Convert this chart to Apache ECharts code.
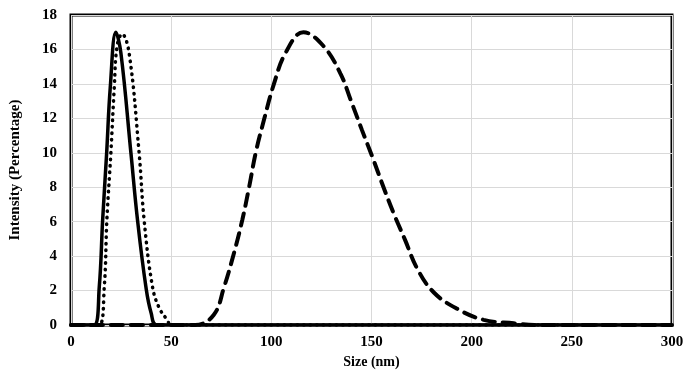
<!DOCTYPE html>
<html>
<head>
  <meta charset="utf-8">
  <style>
    html, body { margin: 0; padding: 0; width: 100%; height: 100%; overflow: hidden; background: #fff; }
  </style>
  <script src="https://cdn.jsdelivr.net/npm/echarts@6/dist/echarts.min.js"></script>
</head>
<body>
  <div id="container" style="width: 692px; height: 381px;"></div>
  <script>
    // solid curve
    var sizeSolid = [0, 11.5, 14.1, 15.8, 17.8, 19.6, 22.4, 24.9, 29.9, 33.2, 37.4, 40, 43, 300];
    var intSolid = [0, 0, 2.2, 6.1, 10, 13.8, 17, 15.8, 10, 6.1, 2.2, 0.7, 0, 0];
    // dotted curve
    var sizeDotted = [0, 14, 16.6, 17.9, 19.9, 21.6, 23, 25.5, 29, 34, 36.5, 40.7, 44, 48, 50, 300];
    var intDotted = [0, 0, 2.2, 6.1, 10, 13.8, 16.2, 16.9, 15.8, 10, 6.1, 2.2, 1.0, 0.3, 0, 0];
    // dashed curve
    var sizeDashed = [0, 62, 71.3, 76.4, 81.4, 85.5, 88.9, 92.2, 96.3, 101.3, 107.1, 116, 126, 134.5, 139.5, 145.3, 150.3, 156, 161, 166.9, 172.7, 181, 192.6, 206, 221, 232, 300];
    var intDashed = [0, 0, 0.6, 2.2, 4.2, 6.1, 8.0, 10, 11.9, 14, 15.8, 17, 16.2, 14.6, 13.1, 11.3, 9.8, 8, 6.5, 4.9, 3.3, 1.9, 0.95, 0.3, 0.1, 0, 0];

    var xTicks = [0, 50, 100, 150, 200, 250, 300];
    var yTicks = [0, 2, 4, 6, 8, 10, 12, 14, 16, 18];

    function pairs(xs, ys) {
      return xs.map(function (x, i) { return [x, ys[i]]; });
    }

    var font = 'Liberation Serif';
    var chart = echarts.init(document.getElementById('container'), null, { renderer: 'canvas' });

    var option = {
      backgroundColor: '#fff',
      animation: false,
      grid: {
        left: 70, right: 20, top: 15, bottom: 56,
        show: true, borderColor: '#000', borderWidth: 3
      },
      xAxis: {
        type: 'value',
        min: xTicks[0], max: xTicks[xTicks.length - 1], interval: 50,
        name: 'Size (nm)', nameLocation: 'middle', nameGap: 28,
        nameTextStyle: { fontFamily: font, fontWeight: 'bold', fontSize: 14, color: '#000' },
        axisLine: { show: false },
        axisTick: { show: false },
        axisLabel: { fontFamily: font, fontWeight: 'bold', fontSize: 15, color: '#000', margin: 10 },
        splitLine: { show: true, lineStyle: { color: '#d9d9d9', width: 1 } }
      },
      yAxis: {
        type: 'value',
        min: yTicks[0], max: yTicks[yTicks.length - 1], interval: 2,
        name: 'Intensity (Percentage)', nameLocation: 'middle', nameGap: 48,
        nameTextStyle: { fontFamily: font, fontWeight: 'bold', fontSize: 15, color: '#000' },
        axisLine: { show: false },
        axisTick: { show: false },
        axisLabel: { fontFamily: font, fontWeight: 'bold', fontSize: 15, color: '#000', margin: 14 },
        splitLine: { show: true, lineStyle: { color: '#d9d9d9', width: 1 } }
      },
      series: [
        {
          type: 'line', data: pairs(sizeDashed, intDashed),
          smooth: 0.4, showSymbol: false, clip: true,
          lineStyle: { color: '#000', width: 4, type: [12, 8], cap: 'round' }
        },
        {
          type: 'line', data: pairs(sizeDotted, intDotted),
          smooth: 0.4, showSymbol: false, clip: true,
          lineStyle: { color: '#000', width: 3.5, type: [0.5, 6], cap: 'round' }
        },
        {
          type: 'line', data: pairs(sizeSolid, intSolid),
          smooth: 0.4, showSymbol: false, clip: true,
          lineStyle: { color: '#000', width: 3.5 }
        }
      ]
    };
    chart.setOption(option);
  </script>
</body>
</html>
